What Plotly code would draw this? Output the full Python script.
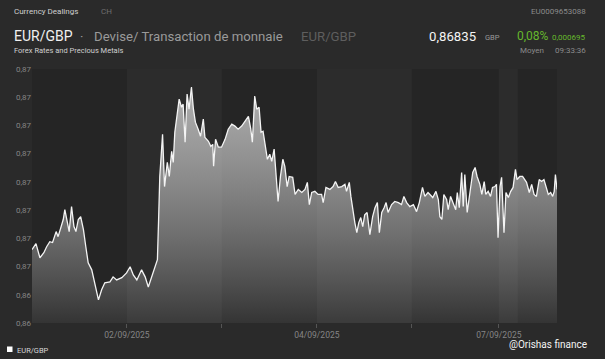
import numpy as np
import plotly.graph_objects as go

# ---------------- data ----------------
# hours on a trading-time scale (0 = 01/09/2025 00:00)
hours = [0, 1.0, 2.0, 3.0, 3.7, 4.5, 5.2, 6.1, 6.6, 7.3, 7.9, 8.3, 8.9, 9.4, 10.0, 10.6, 11.1, 11.7, 12.3, 13.0,
         13.6, 14.2, 15.1, 15.9, 16.8, 17.6, 18.4, 19.7, 20.5, 21.4, 22.7, 23.9, 24.8, 25.6, 26.5, 27.7, 28.6,
         29.4, 30.2, 31.1, 31.7, 32.0, 32.3, 33.0, 33.5, 34.2, 34.7, 35.3, 35.7, 36.1, 36.7, 37.2, 37.8, 38.2,
         38.7, 39.2, 39.7, 40.3, 40.8, 41.3, 42.0, 42.6, 43.3, 43.7, 44.6, 45.2, 45.7, 45.9, 46.4, 47.1, 47.9,
         48.8, 49.6, 50.5, 51.3, 52.1, 53.0, 53.8, 54.7, 55.3, 55.7, 56.3, 56.8, 57.4, 57.9, 58.4, 59.0, 59.5,
         60.1, 60.6, 61.2, 61.7, 62.2, 62.8, 63.4, 63.9, 64.5, 65.0, 65.9, 66.5, 67.3, 68.2, 69.0, 69.6, 70.1,
         70.7, 71.5, 72.3, 73.2, 73.6, 74.3, 75.3, 76.1, 76.7, 77.4, 78.3, 79.1, 79.5, 80.2, 80.6, 81.0, 81.6,
         82.1, 82.6, 83.1, 83.6, 84.1, 84.7, 85.4, 86.1, 86.7, 87.3, 87.8, 88.4, 89.0, 89.5, 90.0, 90.9, 91.7,
         92.6, 93.4, 94.0, 94.7, 95.5, 96.4, 97.2, 97.9, 98.7, 99.3, 100.1, 101.3, 102.1, 102.7, 103.1, 103.6,
         104.1, 104.8, 105.2, 105.8, 106.5, 107.1, 107.5, 108.0, 108.6, 109.0, 109.4, 110.0, 110.7, 111.4,
         112.0, 112.5, 113.2, 113.7, 114.3, 114.7, 115.3, 115.9, 116.4, 117.0, 117.4, 117.8, 118.3, 118.7,
         119.3, 119.8, 120.4, 121.0, 121.6, 122.2, 122.6, 123.3, 124.0, 124.6, 125.0, 125.7, 126.3, 126.9,
         127.5, 128.2, 128.8, 129.4, 129.9, 130.5, 131.1, 131.6, 132.0, 132.3, 132.7]

eurgbp = [0.86758, 0.86779, 0.86729, 0.86747, 0.86768, 0.86786, 0.86783, 0.86822, 0.86804, 0.86840, 0.86865,
          0.86900, 0.86854, 0.86822, 0.86911, 0.86840, 0.86822, 0.86865, 0.86875, 0.86829, 0.86768, 0.86711,
          0.86686, 0.86640, 0.86579, 0.86615, 0.86640, 0.86643, 0.86661, 0.86650, 0.86658, 0.86675, 0.86697,
          0.86668, 0.86650, 0.86686, 0.86661, 0.86625, 0.86658, 0.86697, 0.86722, 0.86865, 0.87018, 0.87168,
          0.86982, 0.87068, 0.87018, 0.87107, 0.87068, 0.87175, 0.87250, 0.87293, 0.87264, 0.87275, 0.87140,
          0.87311, 0.87257, 0.87336, 0.87257, 0.87211, 0.87186, 0.87161, 0.87222, 0.87157, 0.87143, 0.87125,
          0.87132, 0.87054, 0.87150, 0.87122, 0.87122, 0.87150, 0.87186, 0.87204, 0.87197, 0.87186, 0.87197,
          0.87214, 0.87232, 0.87186, 0.87140, 0.87304, 0.87257, 0.87264, 0.87175, 0.87179, 0.87125, 0.87079,
          0.87097, 0.87072, 0.87115, 0.87007, 0.86929, 0.87018, 0.87079, 0.87054, 0.86982, 0.87018, 0.87015,
          0.86954, 0.86972, 0.86961, 0.86972, 0.86997, 0.86918, 0.86961, 0.86965, 0.86954, 0.86954, 0.86925,
          0.86979, 0.86972, 0.86982, 0.87000, 0.86979, 0.86982, 0.86990, 0.86965, 0.86997, 0.86947, 0.86907,
          0.86854, 0.86818, 0.86854, 0.86872, 0.86840, 0.86882, 0.86890, 0.86811, 0.86875, 0.86907, 0.86925,
          0.86818, 0.86890, 0.86907, 0.86925, 0.86890, 0.86918, 0.86929, 0.86925, 0.86918, 0.86947, 0.86925,
          0.86911, 0.86918, 0.86893, 0.86925, 0.86979, 0.86947, 0.86961, 0.86943, 0.86965, 0.86936, 0.86875,
          0.86865, 0.86954, 0.86936, 0.86900, 0.86947, 0.86918, 0.86900, 0.86961, 0.86907, 0.87032, 0.86911,
          0.87025, 0.86890, 0.86961, 0.87032, 0.87050, 0.87018, 0.86990, 0.86954, 0.87000, 0.86954, 0.86965,
          0.86947, 0.86979, 0.86982, 0.86990, 0.86800, 0.86982, 0.87015, 0.86818, 0.86961, 0.86943, 0.86965,
          0.86979, 0.87043, 0.87007, 0.87018, 0.87018, 0.87007, 0.86997, 0.86961, 0.86990, 0.86954, 0.86947,
          0.87007, 0.87000, 0.87007, 0.86982, 0.86954, 0.86961, 0.86947, 0.86965, 0.87025, 0.86972]

y_min, y_max = 0.86497, 0.87400
left_ticks = ["0,86", "0,86", "0,87", "0,87", "0,87", "0,87", "0,87", "0,87", "0,87", "0,87"]
right_ticks = ["99,69%", "99,81%", "99,92%", "100,04%", "100,16%", "100,27%", "100,39%", "100,50%",
               "100,62%", "100,73%"]

day_starts = [0, 24, 48, 72, 96, 118, 122.8]
x_end = 132.7
x_tick_labels = ["02/09/2025", "", "04/09/2025", "", "07/09/2025"]
x_tick_hours = [24, 48, 72, 96, 118]

# ---------------- layout helpers ----------------
W, H = 605, 359
ML, MR, MT, MB = 32, 48, 69, 36
PW, PH = W - ML - MR, H - MT - MB


def px(x):
    return (x - ML) / PW


def py(y):
    return (H - MB - y) / PH


FONT = "Roboto"
tickvals = list(np.linspace(y_min, y_max, 10))

fig = go.Figure()
fig.add_trace(go.Scatter(
    x=hours, y=eurgbp, mode="lines", name="EUR/GBP",
    line=dict(color="#f4f4f4", width=1.3),
    fill="tozeroy",
    fillgradient=dict(type="vertical", start=y_min, stop=0.8734,
                      colorscale=[[0, "rgba(255,255,255,0.07)"], [1, "rgba(205,205,205,0.82)"]]),
    showlegend=False, hoverinfo="skip",
))

shapes = []
for i in range(len(day_starts)):
    if i % 2 == 0:
        x1 = day_starts[i + 1] if i + 1 < len(day_starts) else x_end
        shapes.append(dict(type="rect", xref="x", yref="paper", x0=day_starts[i], x1=x1, y0=0, y1=1,
                           fillcolor="#252525", line_width=0, layer="below"))
# legend square
shapes.append(dict(type="rect", xref="paper", yref="paper", x0=px(7), x1=px(12.5), y0=py(352), y1=py(346.5),
                   fillcolor="#ffffff", line_width=0))

ann = []


def text(x, y, s, size, color, anchor="left"):
    ann.append(dict(xref="paper", yref="paper", x=px(x), y=py(y), text=s,
                    showarrow=False, xanchor=anchor, yanchor="middle",
                    font=dict(family=FONT, size=size, color=color)))


text(12, 12, "Currency Dealings", 8, "#cfcfcf")
text(99, 12, "CH", 8, "#6f6f6f")
text(12, 36, "EUR/GBP", 14, "#f0f0f0")
text(78, 36, "·", 13, "#9a9a9a")
text(92, 36, "Devise/ Transaction de monnaie", 13.2, "#9a9a9a")
text(299, 36, "EUR/GBP", 13.2, "#5e5e5e")
text(12, 51, "Forex Rates and Precious Metals", 7.5, "#d0d0d0")
text(588, 12, "EU0009653088", 8, "#8a8a8a", anchor="right")
text(427, 36, "0,86835", 13.2, "#f4f4f4")
text(483, 37, "GBP", 7.5, "#9a9a9a")
text(515, 36, "0,08%", 12, "#66b82c")
text(588, 37, "0,000695", 8, "#66b82c", anchor="right")
text(518, 51, "Moyen", 8, "#8a8a8a")
text(588, 51, "09:33:36", 8, "#8a8a8a", anchor="right")
text(15, 350, "EUR/GBP", 7.5, "#d8d8d8")
text(507, 344, "@Orishas finance", 10, "#f4f4f4")

fig.update_layout(
    width=W, height=H,
    margin=dict(l=ML, r=MR, t=MT, b=MB, pad=0),
    paper_bgcolor="#2a2a2a", plot_bgcolor="#2c2c2c",
    font=dict(family=FONT, size=8, color="#858585"),
    shapes=shapes, annotations=ann, showlegend=False,
    xaxis=dict(range=[0, x_end], tickvals=x_tick_hours, ticktext=x_tick_labels, ticks="outside",
               ticklen=4, tickcolor="#555555", showgrid=False, zeroline=False, showline=False,
               tickfont=dict(size=8.5, color="#858585")),
    yaxis=dict(range=[y_min, y_max], tickvals=tickvals, ticktext=left_ticks, showgrid=False,
               zeroline=False, ticks="", tickfont=dict(size=8, color="#858585")),
    yaxis2=dict(range=[y_min, y_max], tickvals=tickvals, ticktext=right_ticks, overlaying="y",
                side="right", showgrid=False, zeroline=False, ticks="",
                tickfont=dict(size=8, color="#858585")),
)

fig.write_html("out.html", config={"displayModeBar": False},
               post_script="document.body.style.margin='0';document.body.style.background='#2a2a2a';"
                           "document.body.style.overflow='hidden';")
